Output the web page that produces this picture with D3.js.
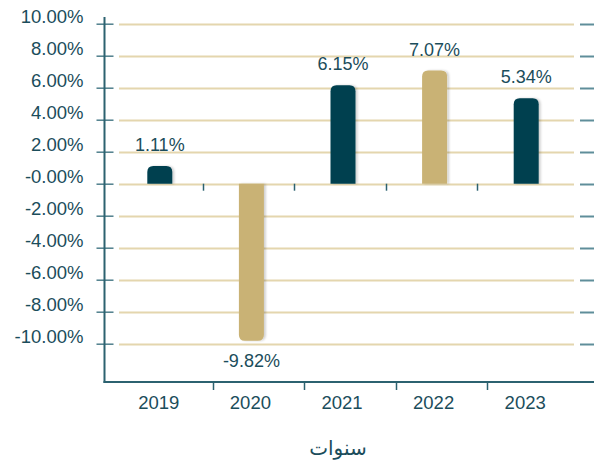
<!DOCTYPE html>
<html>
<head>
<meta charset="utf-8">
<script src="https://cdn.jsdelivr.net/npm/d3@7"></script>
<style>
  body { margin: 0; background: #fff; }
  svg text { font-family: "Liberation Sans", Arial, sans-serif; fill: #1b4d5b; }
</style>
</head>
<body>
<div id="chart"></div>
<script>
// data
var years = ["2019", "2020", "2021", "2022", "2023"];
var returns = [1.11, -9.82, 6.15, 7.07, 5.34];
var barColors = ["#00404f", "#c9b274", "#00404f", "#c9b274", "#00404f"];
var yTicks = [10, 8, 6, 4, 2, 0, -2, -4, -6, -8, -10];
var axisTitle = "سنوات";

var width = 594, height = 461;

var svg = d3.select("#chart")
    .append("svg")
    .attr("width", width)
    .attr("height", height);

// soft shadow on the bars
var defs = svg.append("defs");
var f = defs.append("filter").attr("id", "shadow")
    .attr("x", "-20%").attr("y", "-10%").attr("width", "150%").attr("height", "120%");
f.append("feDropShadow")
    .attr("dx", 2).attr("dy", 0).attr("stdDeviation", 1.2)
    .attr("flood-color", "#000").attr("flood-opacity", 0.18);

// scales
var y = d3.scaleLinear().domain([-10, 10]).range([343.7, 23.7]);
var x = d3.scaleBand().domain(years).range([114, 572]);

var axisX = 104.5, bottomY = 382;

// grid lines
svg.append("g").selectAll("line")
    .data(yTicks)
    .enter()
    .append("line")
    .attr("x1", 119).attr("x2", 574)
    .attr("y1", function (d) { return Math.round(y(d)) + 0.5; })
    .attr("y2", function (d) { return Math.round(y(d)) + 0.5; })
    .attr("stroke", "#e4d6ae")
    .attr("stroke-width", 2);

// right side tick marks
svg.append("g").selectAll("line")
    .data(yTicks)
    .enter()
    .append("line")
    .attr("x1", 580).attr("x2", 594)
    .attr("y1", function (d) { return Math.round(y(d)) + 0.5; })
    .attr("y2", function (d) { return Math.round(y(d)) + 0.5; })
    .attr("stroke", "#5f8e9a")
    .attr("stroke-width", 2);

// left axis
var yAxis = d3.axisLeft(y)
    .tickValues(yTicks)
    .tickSize(0)
    .tickFormat(function (d) { return (d === 0 ? "-0.00" : d.toFixed(2)) + "%"; });

var gy = svg.append("g")
    .attr("transform", "translate(" + axisX + ",0)")
    .call(yAxis);
gy.select(".domain").remove();
gy.selectAll(".tick text")
    .attr("x", -21)
    .attr("dy", "-0.05em")
    .style("font-size", "18.5px")
    .style("fill", "#1b4d5b")
    .style("font-family", "'Liberation Sans', Arial, sans-serif");
gy.selectAll(".tick").append("line")
    .attr("x1", -8).attr("x2", 9)
    .attr("stroke", "#4f7f8c")
    .attr("stroke-width", 1.5);

svg.append("line")
    .attr("x1", axisX).attr("x2", axisX)
    .attr("y1", 17).attr("y2", bottomY + 1)
    .attr("stroke", "#2c6270")
    .attr("stroke-width", 2);

// bottom axis
svg.append("line")
    .attr("x1", axisX - 1).attr("x2", width)
    .attr("y1", bottomY).attr("y2", bottomY)
    .attr("stroke", "#2c6270")
    .attr("stroke-width", 2);

var bounds = years.slice(1).map(function (d) { return x(d); });

svg.append("g").selectAll("line")
    .data(bounds)
    .enter()
    .append("line")
    .attr("x1", function (d) { return Math.round(d) + 7.5; })
    .attr("x2", function (d) { return Math.round(d) + 7.5; })
    .attr("y1", bottomY).attr("y2", bottomY + 8)
    .attr("stroke", "#2c6270")
    .attr("stroke-width", 1.5);

// little ticks along the zero line
svg.append("g").selectAll("line")
    .data(bounds)
    .enter()
    .append("line")
    .attr("x1", function (d) { return Math.round(d) - 2.5; })
    .attr("x2", function (d) { return Math.round(d) - 2.5; })
    .attr("y1", y(0)).attr("y2", y(0) + 7)
    .attr("stroke", "#2c6270")
    .attr("stroke-width", 1.5);

svg.append("g").selectAll("text")
    .data(years)
    .enter()
    .append("text")
    .attr("x", function (d) { return x(d) + x.bandwidth() / 2 - 1; })
    .attr("y", 409)
    .attr("text-anchor", "middle")
    .style("font-size", "18.5px")
    .text(function (d) { return d; });

// bars, rounded at the outer end
var bw = 25, r = 6;
function barPath(d, i) {
    var cx = x(years[i]) + x.bandwidth() / 2;
    var x0 = cx - bw / 2, x1 = cx + bw / 2;
    var y0 = y(0), y1 = y(d);
    if (d >= 0) {
        return "M" + x0 + "," + y0 + "V" + (y1 + r) +
            "Q" + x0 + "," + y1 + " " + (x0 + r) + "," + y1 +
            "H" + (x1 - r) + "Q" + x1 + "," + y1 + " " + x1 + "," + (y1 + r) +
            "V" + y0 + "Z";
    }
    return "M" + x0 + "," + y0 + "V" + (y1 - r) +
        "Q" + x0 + "," + y1 + " " + (x0 + r) + "," + y1 +
        "H" + (x1 - r) + "Q" + x1 + "," + y1 + " " + x1 + "," + (y1 - r) +
        "V" + y0 + "Z";
}

svg.append("g").selectAll("path")
    .data(returns)
    .enter()
    .append("path")
    .attr("d", barPath)
    .attr("fill", function (d, i) { return barColors[i]; })
    .attr("filter", "url(#shadow)");

// value labels
svg.append("g").selectAll("text")
    .data(returns)
    .enter()
    .append("text")
    .attr("x", function (d, i) { return x(years[i]) + x.bandwidth() / 2; })
    .attr("y", function (d) { return d >= 0 ? y(d) - 15 : y(d) + 26; })
    .attr("text-anchor", "middle")
    .style("font-size", "18px")
    .text(function (d) { return d.toFixed(2) + "%"; });

// axis title
svg.append("text")
    .attr("x", 338)
    .attr("y", 455)
    .attr("text-anchor", "middle")
    .style("font-size", "20px")
    .style("font-family", "'Noto Sans', 'DejaVu Sans', sans-serif")
    .text(axisTitle);
</script>
</body>
</html>
